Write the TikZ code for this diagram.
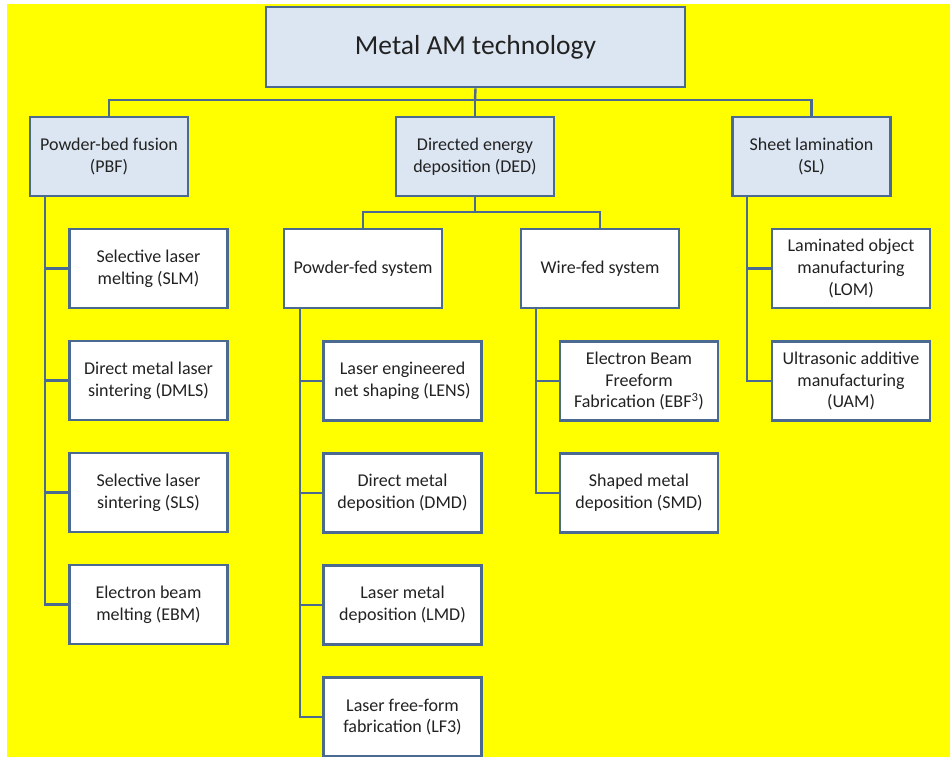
\documentclass[tikz,border=0pt]{standalone}
\usepackage{fontspec}
\setmainfont{Carlito}
\definecolor{bgyellow}{HTML}{FFFF00}
\definecolor{linecol}{HTML}{4A6A92}
\definecolor{boxfill}{HTML}{DCE6F2}
\definecolor{txtcol}{HTML}{222222}
\begin{document}
\begin{tikzpicture}[x=1pt,y=-1pt,
  base/.style={draw=linecol, line width=2.6pt, minimum width=158pt, minimum height=79pt,
    align=center, inner sep=2pt, text=txtcol, font=\fontsize{18}{21.7}\selectfont},
  catbox/.style={base, fill=boxfill},
  leafbox/.style={base, fill=white},
  conn/.style={draw=linecol, line width=2.4pt}]
\fill[white] (0,0) rectangle (950,757);
\fill[bgyellow] (7,4) rectangle (950,757);
\useasboundingbox (0,0) rectangle (950,757);

% root
\node[catbox, minimum width=419pt, minimum height=80pt, font=\fontsize{27.5}{33}\selectfont] (root) at (475.5,47) {Metal AM technology};

% categories
\node[catbox] (pbf) at (109,156.5) {Powder-bed fusion\\(PBF)};
\node[catbox] (ded) at (475,156.5) {Directed energy\\deposition (DED)};
\node[catbox] (sl)  at (811.5,156.5) {Sheet lamination\\(SL)};

% PBF leaves
\node[leafbox] (slm)  at (148.5,268.5) {Selective laser\\melting (SLM)};
\node[leafbox] (dmls) at (148.5,380.5) {Direct metal laser\\sintering (DMLS)};
\node[leafbox] (sls)  at (148.5,492.5) {Selective laser\\sintering (SLS)};
\node[leafbox] (ebm)  at (148.5,604.5) {Electron beam\\melting (EBM)};

% DED subsystems
\node[leafbox] (pfs) at (363,268.5) {Powder-fed system};
\node[leafbox] (wfs) at (600,268.5) {Wire-fed system};

% powder-fed leaves
\node[leafbox] (lens) at (402.5,381) {Laser engineered\\net shaping (LENS)};
\node[leafbox] (dmd)  at (402.5,493) {Direct metal\\deposition (DMD)};
\node[leafbox] (lmd)  at (402.5,605) {Laser metal\\deposition (LMD)};
\node[leafbox] (lf3)  at (402.5,717) {Laser free-form\\fabrication (LF3)};

% wire-fed leaves
\node[leafbox] (ebf) at (639,381) {Electron Beam\\Freeform\\Fabrication (EBF\textsuperscript{3})};
\node[leafbox] (smd) at (639,493) {Shaped metal\\deposition (SMD)};

% SL leaves
\node[leafbox] (lom) at (851,268.5) {Laminated object\\manufacturing\\(LOM)};
\node[leafbox] (uam) at (851,381) {Ultrasonic additive\\manufacturing\\(UAM)};

% connectors root -> categories
\coordinate (j1) at (475,100);
\draw[conn] (root.south) -- (j1);
\draw[conn] (j1) -| (pbf.north);
\draw[conn] (j1) -| (sl.north);
\draw[conn] (j1) -- (ded.north);

% DED -> subsystems
\coordinate (j2) at (475,212);
\draw[conn] (ded.south) -- (j2);
\draw[conn] (j2) -| (pfs.north);
\draw[conn] (j2) -| (wfs.north);

% PBF leaves
\foreach \n in {slm,dmls,sls,ebm}
  \draw[conn] ([xshift=16pt]pbf.south west) |- (\n.west);
% powder-fed leaves
\foreach \n in {lens,dmd,lmd,lf3}
  \draw[conn] ([xshift=17pt]pfs.south west) |- (\n.west);
% wire-fed leaves
\foreach \n in {ebf,smd}
  \draw[conn] ([xshift=16pt]wfs.south west) |- (\n.west);
% SL leaves
\foreach \n in {lom,uam}
  \draw[conn] ([xshift=16pt]sl.south west) |- (\n.west);
\end{tikzpicture}
\end{document}
